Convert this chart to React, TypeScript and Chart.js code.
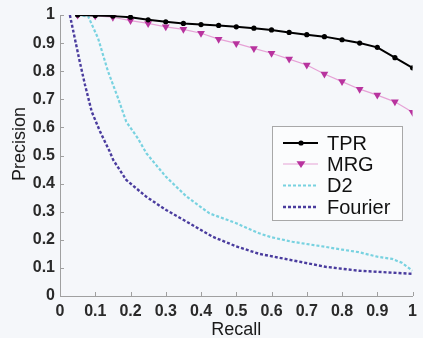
import React, { useEffect, useRef } from "react";
import { Chart, registerables } from "chart.js";

Chart.register(...registerables);

// ---- data ----
const seriesNames = ["TPR", "MRG", "D2", "Fourier"];

const markedRecall = [
  0.05, 0.1, 0.15, 0.2, 0.25, 0.3, 0.35, 0.4, 0.45, 0.5,
  0.55, 0.6, 0.65, 0.7, 0.75, 0.8, 0.85, 0.9, 0.95, 1.0,
];
const tprPrecision = [
  1.0, 0.998, 0.996, 0.992, 0.983, 0.976, 0.97, 0.966, 0.963, 0.958,
  0.953, 0.947, 0.938, 0.93, 0.923, 0.912, 0.9, 0.885, 0.848, 0.812,
];
const mrgPrecision = [
  1.0, 0.997, 0.992, 0.98, 0.97, 0.958, 0.949, 0.935, 0.914, 0.899,
  0.881, 0.864, 0.843, 0.822, 0.79, 0.763, 0.736, 0.715, 0.691, 0.654,
];

const d2Recall = [
  0.05, 0.08, 0.108, 0.136, 0.165, 0.188, 0.221, 0.245, 0.3, 0.358, 0.424,
  0.5, 0.565, 0.6, 0.659, 0.72, 0.753, 0.8, 0.847, 0.9, 0.942, 0.97, 1.0,
];
const d2Precision = [
  1.0, 0.995, 0.917, 0.8, 0.703, 0.62, 0.561, 0.508, 0.425, 0.355, 0.294,
  0.259, 0.223, 0.209, 0.193, 0.181, 0.175, 0.165, 0.156, 0.14, 0.132, 0.118, 0.09,
];

const fourierRecall = [
  0.028, 0.042, 0.056, 0.071, 0.09, 0.113, 0.141, 0.151, 0.188, 0.245,
  0.301, 0.367, 0.433, 0.499, 0.565, 0.659, 0.753, 0.847, 0.942, 1.0,
];
const fourierPrecision = [
  1.0, 0.917, 0.834, 0.751, 0.656, 0.587, 0.514, 0.484, 0.413, 0.353,
  0.306, 0.259, 0.211, 0.177, 0.15, 0.127, 0.104, 0.09, 0.083, 0.079,
];

const tickLabels = ["0", "0.1", "0.2", "0.3", "0.4", "0.5", "0.6", "0.7", "0.8", "0.9", "1"];
const axisMin = 0;
const axisMax = 1;
const axisStep = 0.1;
const xTitle = "Recall";
const yTitle = "Precision";

const FONT = "'Liberation Sans', Arial, sans-serif";

const toPoints = (xs: number[], ys: number[]) => xs.map((x, i) => ({ x, y: ys[i] }));
const tickLabel = (v: any) => {
  const idx = Math.round((Number(v) - axisMin) / axisStep);
  return tickLabels[idx] ?? "";
};

const bgPlugin = {
  id: "bg",
  beforeDraw(chart: any) {
    const { ctx, width, height } = chart;
    ctx.save();
    ctx.fillStyle = "#f5f7fa";
    ctx.fillRect(0, 0, width, height);
    ctx.restore();
  },
};

const inwardTicksPlugin = {
  id: "inwardTicks",
  afterDatasetsDraw(chart: any) {
    const { ctx, chartArea, scales } = chart;
    const { left, bottom } = chartArea;
    ctx.save();
    ctx.strokeStyle = "#a0a0a0";
    ctx.lineWidth = 1;
    ctx.beginPath();
    scales.x.ticks.forEach((t: any) => {
      const px = Math.round(scales.x.getPixelForValue(t.value)) + 0.5;
      ctx.moveTo(px, bottom);
      ctx.lineTo(px, bottom - 4);
    });
    scales.y.ticks.forEach((t: any) => {
      const py = Math.round(scales.y.getPixelForValue(t.value)) + 0.5;
      ctx.moveTo(left, py);
      ctx.lineTo(left + 4, py);
    });
    ctx.stroke();
    ctx.restore();
  },
};

const yTitlePlugin = {
  id: "yTitle",
  afterDraw(chart: any) {
    const { ctx } = chart;
    ctx.save();
    ctx.translate(20, 144);
    ctx.rotate(-Math.PI / 2);
    ctx.font = `18px ${FONT}`;
    ctx.fillStyle = "#1a1a1a";
    ctx.textAlign = "center";
    ctx.textBaseline = "middle";
    ctx.fillText(yTitle, 0, 0);
    ctx.restore();
  },
};

const legendPlugin = {
  id: "boxLegend",
  afterDraw(chart: any) {
    const { ctx } = chart;
    const bx = 272.5, by = 126.5, bw = 130, bh = 94;
    ctx.save();
    ctx.fillStyle = "#fbfcfd";
    ctx.strokeStyle = "#a8a8a8";
    ctx.lineWidth = 1;
    ctx.fillRect(bx, by, bw, bh);
    ctx.strokeRect(bx, by, bw, bh);
    const rowY = [143, 164, 185.5, 207];
    chart.data.datasets.forEach((ds: any, i: number) => {
      const y = rowY[i];
      ctx.save();
      ctx.strokeStyle = ds.borderColor;
      ctx.lineWidth = ds.borderWidth;
      ctx.setLineDash(ds.borderDash || []);
      ctx.beginPath();
      ctx.moveTo(283, y);
      ctx.lineTo(318, y);
      ctx.stroke();
      ctx.restore();
      if (ds.pointRadius > 0) {
        ctx.save();
        ctx.fillStyle = ds.pointBackgroundColor;
        ctx.beginPath();
        if (ds.pointStyle === "triangle") {
          const r = ds.pointRadius;
          ctx.moveTo(301 - r, y - r * 0.6);
          ctx.lineTo(301 + r, y - r * 0.6);
          ctx.lineTo(301, y + r * 0.9);
          ctx.closePath();
        } else {
          ctx.arc(301, y, ds.pointRadius, 0, Math.PI * 2);
        }
        ctx.fill();
        ctx.restore();
      }
      ctx.font = `20px ${FONT}`;
      ctx.fillStyle = "#111";
      ctx.textAlign = "left";
      ctx.textBaseline = "middle";
      ctx.fillText(ds.label, 327, y + 1);
    });
    ctx.restore();
  },
};

export default function App() {
  const ref = useRef<HTMLCanvasElement | null>(null);

  useEffect(() => {
    if (!ref.current) return;
    const chart = new Chart(ref.current, {
      type: "line",
      data: {
        datasets: [
          {
            label: seriesNames[0],
            data: toPoints(markedRecall, tprPrecision),
            borderColor: "#000000",
            borderWidth: 2,
            pointRadius: 2.6,
            pointBackgroundColor: "#000000",
            pointBorderWidth: 0,
            pointStyle: "circle",
          },
          {
            label: seriesNames[1],
            data: toPoints(markedRecall, mrgPrecision),
            borderColor: "#e6a2d6",
            borderWidth: 1.2,
            pointRadius: 4.5,
            pointBackgroundColor: "#b8339e",
            pointBorderWidth: 0,
            pointStyle: "triangle",
            pointRotation: 180,
          },
          {
            label: seriesNames[2],
            data: toPoints(d2Recall, d2Precision),
            borderColor: "#78d2e0",
            borderWidth: 2.2,
            borderDash: [3, 2],
            pointRadius: 0,
          },
          {
            label: seriesNames[3],
            data: toPoints(fourierRecall, fourierPrecision),
            borderColor: "#4a3c9e",
            borderWidth: 2.4,
            borderDash: [3, 2],
            pointRadius: 0,
          },
        ],
      } as any,
      options: {
        animation: false,
        responsive: false,
        events: [],
        layout: { padding: { left: 0, top: 15, right: 9, bottom: 0 } },
        plugins: {
          legend: { display: false },
          tooltip: { enabled: false },
        },
        scales: {
          x: {
            type: "linear",
            min: axisMin,
            max: axisMax,
            grid: { display: true, drawOnChartArea: false, drawTicks: false, color: "#a0a0a0" },
            border: { display: true, color: "#a0a0a0", width: 1 },
            ticks: {
              stepSize: axisStep,
              padding: 6,
              color: "#2a2a2a",
              font: { family: FONT, size: 16, weight: "bold" },
              maxRotation: 0,
              callback: tickLabel,
            },
            title: {
              display: true,
              text: xTitle,
              color: "#1a1a1a",
              font: { family: FONT, size: 18 },
              padding: { top: 0, bottom: -3 },
            },
            afterFit(scale: any) {
              scale.height = 42;
            },
          },
          y: {
            type: "linear",
            min: axisMin,
            max: axisMax,
            grid: { display: true, drawOnChartArea: false, drawTicks: false, color: "#a0a0a0" },
            border: { display: true, color: "#a0a0a0", width: 1 },
            ticks: {
              stepSize: axisStep,
              padding: 5,
              color: "#2a2a2a",
              font: { family: FONT, size: 16, weight: "bold" },
              callback: tickLabel,
            },
            afterFit(scale: any) {
              scale.width = 60;
            },
          },
        },
      } as any,
      plugins: [bgPlugin, inwardTicksPlugin, yTitlePlugin, legendPlugin],
    });
    return () => chart.destroy();
  }, []);

  return (
    <div style={{ position: "absolute", left: 0, top: 0, width: 423, height: 338 }}>
      <canvas ref={ref} width={423} height={338} />
    </div>
  );
}
